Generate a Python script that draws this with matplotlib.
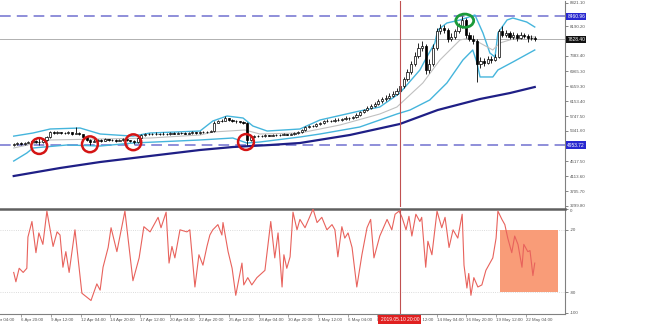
import numpy as np
import matplotlib.pyplot as plt
from matplotlib.patches import Ellipse, Rectangle
import matplotlib.transforms as mtransforms

plt.rcParams['font.family'] = ['Liberation Sans', 'DejaVu Sans']

# 8-hour bars, bar 0 = 6 Apr 04:00
first_open = 4960
closes = [
    4980, 5000, 4990, 5020, 5040, 5060, 5050, 5030, 5100, 5180,
    5300, 5280, 5300, 5290, 5280, 5300, 5270, 5290, 5250, 5180,
    5090, 5050, 5080, 5100, 5080, 5110, 5100, 5090, 5080, 5100,
    5110, 5090, 5070, 5040, 5150, 5230, 5250, 5260, 5250, 5270,
    5260, 5270, 5260, 5280, 5270, 5290, 5280, 5270, 5290, 5300,
    5290, 5300, 5310, 5320, 5330, 5570, 5600, 5620, 5680, 5640,
    5610, 5600, 5580, 5560, 5100, 5180, 5200, 5210, 5200, 5220,
    5210, 5230, 5220, 5240, 5250, 5240, 5260, 5280, 5300, 5360,
    5440, 5480, 5470, 5520, 5560, 5600, 5620, 5610, 5650, 5630,
    5660, 5700, 5680, 5720, 5780, 5850, 5900, 5960, 6020, 6080,
    6150, 6200, 6250, 6300, 6350, 6420, 6550, 6750, 6950, 7150,
    7380, 7600, 7650, 7000, 7150, 7600, 8050, 8150, 8100, 7850,
    7900, 8050, 8200, 8350, 7950, 7850, 7800, 7150, 7250, 7200,
    7300, 7280, 7350, 8050, 7950, 8000, 7900, 7950, 7880, 7950,
    7920, 7860, 7880, 7830]
highs = [
    5010, 5030, 5030, 5050, 5070, 5100, 5090, 5140, 5130, 5210,
    5330, 5330, 5330, 5320, 5320, 5330, 5320, 5440, 5310, 5260,
    5190, 5110, 5110, 5130, 5120, 5140, 5130, 5120, 5110, 5130,
    5140, 5130, 5100, 5090, 5180, 5260, 5280, 5290, 5280, 5300,
    5290, 5300, 5290, 5310, 5300, 5320, 5310, 5300, 5320, 5330,
    5320, 5330, 5340, 5350, 5360, 5600, 5640, 5660, 5760, 5700,
    5660, 5640, 5620, 5600, 5580, 5210, 5230, 5240, 5230, 5250,
    5240, 5260, 5250, 5270, 5280, 5270, 5290, 5310, 5330, 5390,
    5470, 5510, 5510, 5550, 5590, 5640, 5660, 5650, 5690, 5680,
    5700, 5740, 5730, 5760, 5820, 5890, 5950, 6010, 6070, 6130,
    6200, 6260, 6310, 6360, 6420, 6500, 6620, 6820, 7030, 7250,
    7480, 7720, 7780, 7700, 7300, 7700, 8150, 8260, 8230, 8150,
    8000, 8120, 8290, 8460, 8400, 8020, 7950, 7830, 7350, 7330,
    7380, 7370, 7430, 8120, 8200, 8080, 8050, 8020, 8000, 8030,
    8010, 7980, 7960, 7920]
lows = [
    4940, 4960, 4970, 4970, 5000, 5020, 5020, 4960, 5010, 5080,
    5160, 5250, 5260, 5260, 5250, 5260, 5240, 5250, 5220, 5150,
    5060, 4960, 5030, 5060, 5050, 5060, 5070, 5060, 5050, 5060,
    5080, 5060, 5040, 4990, 5020, 5130, 5210, 5230, 5220, 5230,
    5240, 5240, 5240, 5240, 5250, 5250, 5260, 5250, 5250, 5270,
    5270, 5270, 5280, 5290, 5300, 5320, 5550, 5580, 5600, 5610,
    5580, 5570, 5550, 5530, 4960, 5080, 5160, 5180, 5170, 5180,
    5190, 5190, 5200, 5200, 5220, 5220, 5220, 5240, 5260, 5280,
    5340, 5420, 5440, 5450, 5500, 5540, 5580, 5580, 5590, 5600,
    5610, 5640, 5650, 5660, 5700, 5760, 5820, 5870, 5930, 5990,
    6050, 6110, 6160, 6210, 6260, 6310, 6380, 6500, 6700, 6900,
    7100, 7330, 7520, 6880, 6920, 7100, 7550, 7980, 8000, 7750,
    7780, 7850, 8000, 8150, 7880, 7780, 7700, 6670, 7050, 7120,
    7150, 7200, 7230, 7320, 7900, 7890, 7830, 7850, 7800, 7840,
    7860, 7760, 7820, 7790]

# Bollinger bands (20) and slow MA
bb_up_x = [0, 5.3, 10.0, 18.2, 23.7, 32.7, 37.4, 51.1, 54.6, 58.5, 62.9, 65.6, 69.5,
           78.5, 84.0, 94.9, 100.4, 105.9, 111.4, 113.3, 115.5, 116.3, 118.8, 122.4,
           126.5, 128.7, 130.6, 132.0, 132.8, 135.3, 136.9, 140.7, 142.9]
bb_up = [5200, 5285, 5394, 5421, 5258, 5200, 5285, 5339, 5611, 5747, 5693, 5475, 5339,
         5394, 5639, 5884, 5992, 6372, 6999, 7352, 7733, 8087, 8277, 8359,
         8495, 8005, 7461, 7352, 8005, 8359, 8413, 8304, 8168]
bb_lo_x = [0, 3.6, 5.3, 14.6, 23.7, 32.7, 51.1, 60.1, 63.9, 67.5, 78.5, 84.0, 94.9,
           100.4, 105.1, 108.7, 114.1, 118.8, 123.2, 125.9, 127.0, 127.9, 131.4, 132.8,
           136.9, 142.9]
bb_lo = [4523, 4741, 4877, 4959, 4931, 5013, 5095, 5149, 5013, 5040, 5176, 5258, 5448,
         5639, 5802, 5911, 6183, 6645, 7271, 7543, 7216, 6809, 6809, 6999,
         7216, 7543]
bb_mid_x = [0, 10.0, 23.7, 37.4, 51.1, 54.6, 63.4, 67.5, 78.5, 89.5, 100.4, 105.1,
            112.2, 116.9, 122.4, 125.1, 127.9, 131.4, 133.3, 138.8, 142.9]
bb_mid = [4877, 5095, 5122, 5149, 5231, 5312, 5367, 5258, 5285, 5503, 5802, 5992,
          6645, 7271, 7815, 7869, 7733, 7543, 7733, 7898, 7898]
ma_x = [0, 12.7, 23.7, 37.4, 51.1, 60.1, 70.3, 78.5, 92.2, 105.9, 116.3, 127.9, 136.1, 142.9]
ma = [4115, 4333, 4496, 4660, 4823, 4904, 4959, 5013, 5231, 5530, 5911, 6210, 6372, 6536]

# Williams %R
wr_x = [0, 0.6, 1.5, 2.6, 3.6, 3.9, 5.0, 6.1, 6.9, 8.0,
        9.1, 10.8, 11.9, 12.7, 13.5, 14.3, 15.2, 16.8, 18.7, 21.2,
        22.8, 23.7, 24.5, 25.9, 26.7, 28.3, 30.5, 32.7, 34.4, 35.7,
        37.4, 39.6, 40.4, 41.8, 42.6, 43.4, 44.2, 45.6, 47.5, 48.3,
        49.7, 50.8, 51.9, 53.0, 53.8, 54.6, 56.0, 57.1, 57.4, 58.8,
        59.9, 60.9, 62.6, 63.1, 64.2, 65.3, 66.7, 68.9, 70.5, 71.6,
        72.5, 73.6, 74.1, 74.9, 75.8, 76.6, 77.7, 78.5, 79.9, 82.1,
        83.2, 84.5, 85.9, 87.3, 88.1, 88.9, 90.0, 90.8, 91.7, 92.8,
        94.1, 95.5, 96.9, 97.9, 98.8, 100.4, 102.4, 103.7, 104.6, 105.7,
        106.5, 107.6, 108.4, 109.2, 110.3, 111.4, 111.9, 113.0, 113.6, 114.7,
        116.1, 117.4, 118.3, 119.4, 120.5, 121.8, 123.0, 123.5, 124.3, 124.8,
        125.4, 126.2, 127.3, 128.4, 129.5, 130.6, 131.4, 132.3, 132.8, 133.9,
        134.7, 135.5, 136.6, 137.4, 138.3, 139.4, 139.9, 141.0, 141.6, 142.4,
        142.9]
wr = [-61, -70, -57, -61, -57, -27, -12, -42, -23, -34,
      -2, -36, -22, -25, -56, -41, -61, -20, -81, -88,
      -72, -78, -56, -37, -18, -41, -2, -69, -47, -17,
      -22, -8, -18, -3, -52, -36, -47, -20, -22, -20,
      -75, -44, -54, -36, -25, -20, -15, -25, -13, -41,
      -57, -83, -52, -73, -66, -73, -66, -59, -12, -47,
      -23, -75, -44, -57, -46, -3, -20, -10, -18, 0,
      -13, -8, -20, -15, -20, -46, -17, -28, -23, -37,
      -75, -44, -18, -10, -47, -26, -10, -20, -5, -2,
      -8, -20, -7, -26, -5, -12, -8, -56, -31, -44,
      -2, -18, -8, -37, -20, -28, -5, -54, -76, -62,
      -83, -66, -75, -73, -59, -52, -47, -28, -2, -10,
      -15, -28, -42, -26, -34, -56, -34, -41, -40, -64,
      -52]

price_ticks = [3299.80, 3705.70, 4113.60, 4517.50, 5341.60, 5747.50, 6153.40,
               6559.30, 6965.30, 7383.40, 8190.20, 8821.10]
level_hi = 8460.96
level_lo = 4953.72
last_price = 7828.40
time_ticks = [-6.0, 2.1, 10.3, 18.4, 26.5, 34.7, 42.8, 50.9, 59.1, 67.2,
              75.3, 83.4, 91.6, 99.7, 107.8, 116.0, 124.1, 132.2, 140.4]
time_labels = ["4 Apr 04:00", "6 Apr 20:00", "9 Apr 12:00", "12 Apr 04:00", "14 Apr 20:00",
               "17 Apr 12:00", "20 Apr 04:00", "22 Apr 20:00", "25 Apr 12:00", "28 Apr 04:00",
               "30 Apr 20:00", "3 May 12:00", "6 May 04:00", "8 May 20:00", "11 May 12:00",
               "14 May 04:00", "16 May 20:00", "19 May 12:00", "22 May 04:00"]
crosshair_x = 105.9
crosshair_label = "2019.05.10 20:00"
support_marks_x = [7.0, 20.9, 32.8, 63.7]
support_marks_y = [4931, 4978, 5033, 5040]
top_mark = (123.7, 8340)
box_x = (133.3, 149.2)
box_y = (-80, -20)

W, H = 660, 331
fig = plt.figure(figsize=(W / 100, H / 100), dpi=100)
ax = fig.add_axes([0, (H - 207) / H, 565 / W, 206 / H])
ax2 = fig.add_axes([0, (H - 313.5) / H, 565 / W, 105 / H])

fs = 3.2
xlim = (-3.76, 151.2)
for a in (ax, ax2):
    a.set_xlim(*xlim)
    a.spines['left'].set_visible(False)
    a.spines['right'].set_color('#808080')
    a.spines['right'].set_linewidth(0.8)
    a.yaxis.tick_right()
    a.tick_params(axis='y', labelsize=fs, colors='#555555', length=2, width=0.5, pad=1.5)
ax.spines['top'].set_visible(False)
ax.spines['bottom'].set_visible(False)
ax.set_ylim(3272.3, 8875.5)
ax.set_xticks([])
ax.set_yticks(price_ticks)
ax.set_yticklabels([f"{v:.2f}" for v in price_ticks])

# candles
x = np.arange(len(closes))
opens = np.array([first_open] + closes[:-1])
c = np.array(closes)
ax.vlines(x, lows, highs, color='black', lw=0.6, zorder=4)
up = c >= opens
ax.bar(x[up], (c - opens)[up], bottom=opens[up], width=0.6, color='white',
       edgecolor='black', lw=0.5, zorder=5)
ax.bar(x[~up], (opens - c)[~up], bottom=c[~up], width=0.6, color='black',
       edgecolor='black', lw=0.5, zorder=5)

# indicators
ax.plot(bb_up_x, bb_up, color='#45b5dc', lw=1.0, zorder=3)
ax.plot(bb_lo_x, bb_lo, color='#45b5dc', lw=1.0, zorder=3)
ax.plot(bb_mid_x, bb_mid, color='#c0c0c0', lw=0.8, zorder=3)
ax.plot(ma_x, ma, color='#1f1f86', lw=1.6, zorder=3)

# levels
for lv in (level_hi, level_lo):
    ax.axhline(lv, color='#7070d0', lw=1.1, ls=(0, (7, 4)), zorder=2)
ax.axhline(last_price, color='#b0b0b0', lw=0.7, zorder=1)

ytr = mtransforms.blended_transform_factory(ax.transAxes, ax.transData)
for lv, bg in ((level_hi, '#2828d0'), (level_lo, '#2828d0'), (last_price, '#111111')):
    ax.text(1.004, lv, f"{lv:.2f}", transform=ytr, fontsize=fs + 0.3, color='white',
            va='center', ha='left', clip_on=False,
            bbox=dict(boxstyle='square,pad=0.25', fc=bg, ec='none'))

# annotations
ax.scatter(support_marks_x, support_marks_y, s=130, facecolors='none',
           edgecolors='#d41414', linewidths=1.8, zorder=6)
ax.add_patch(Ellipse(top_mark, width=4.9, height=360, fill=False,
                     ec='#1b9a3a', lw=2, zorder=6))

# crosshair
for a in (ax, ax2):
    a.axvline(crosshair_x, color='#c05050', lw=0.8, zorder=7)

# Williams %R panel
ax2.set_ylim(-100.5, 0.5)
ax2.spines['top'].set_color('#606060')
ax2.spines['top'].set_linewidth(1.8)
ax2.spines['bottom'].set_color('#808080')
ax2.spines['bottom'].set_linewidth(0.8)
ax2.set_yticks([0, -20, -80, -100])
ax2.set_yticklabels(["0", "-20", "-80", "-100"])
ax2.get_yticklabels()[0].set_va('top')
for lv in (-20, -80):
    ax2.axhline(lv, color='#d0d0d0', lw=0.6, ls=':', zorder=1)
ax2.add_patch(Rectangle((box_x[0], box_y[0]), box_x[1] - box_x[0], box_y[1] - box_y[0],
                        fc='#f99c78', ec='none', zorder=2, clip_on=False))
ax2.plot(wr_x, wr, color='#e8625c', lw=0.8, zorder=3)

ax2.set_xticks([t for t in time_ticks if t > xlim[0]])
ax2.set_xticklabels([])
ax2.tick_params(axis='x', length=2, width=0.5, colors='#808080', direction='out')
xtr = mtransforms.blended_transform_factory(ax2.transData, ax2.transAxes)
for t, lab in zip(time_ticks, time_labels):
    ax2.text(t, -0.04, lab, transform=xtr, fontsize=fs, color='#555555',
             ha='left', va='top', clip_on=False)
ax2.text(crosshair_x, -0.035, crosshair_label, transform=xtr, fontsize=fs + 0.3, color='white',
         ha='center', va='top', clip_on=False, zorder=10,
         bbox=dict(boxstyle='square,pad=0.45', fc='#e02020', ec='none'))

fig.savefig('out.png', dpi=100)
